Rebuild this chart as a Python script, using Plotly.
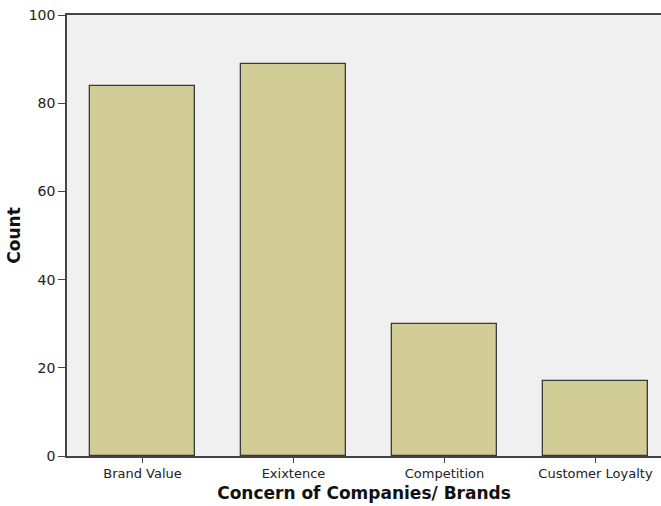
import plotly.graph_objects as go

categories = ["Brand Value", "Exixtence", "Competition", "Customer Loyalty"]
counts = [84, 89, 30, 17]
y_ticks = [0, 20, 40, 60, 80, 100]

fig = go.Figure(go.Bar(
    x=categories, y=counts, width=0.695,
    marker=dict(color="#d2cd96", line=dict(color="#3a3a3a", width=1.3)),
))

fig.update_layout(
    width=661, height=506,
    margin=dict(l=67, r=0, t=15, b=50),
    paper_bgcolor="white", plot_bgcolor="#f0f0f0",
    font=dict(family="DejaVu Sans, sans-serif", color="#222222"),
    showlegend=False, bargap=0,
)
fig.update_xaxes(
    range=[-0.5, 3.434], showline=True, linecolor="#444444", linewidth=1.5,
    mirror=True, ticks="outside", ticklen=5, tickcolor="#444444",
    tickfont=dict(size=13), showgrid=False,
    title=dict(text="<b>Concern of Companies/ Brands</b>", font=dict(size=17, color="#111111"), standoff=7),
)
fig.update_yaxes(
    range=[0, 100], tickvals=y_ticks, showline=True, linecolor="#444444", linewidth=1.5,
    ticks="outside", ticklen=7, tickcolor="#444444", tickfont=dict(size=14),
    showgrid=False, zeroline=False,
    title=dict(text="<b>Count</b>", font=dict(size=17, color="#111111"), standoff=4),
)

fig.write_html("out.html", config={"displayModeBar": False},
               post_script="document.body.style.margin='0';document.body.style.padding='0';")
